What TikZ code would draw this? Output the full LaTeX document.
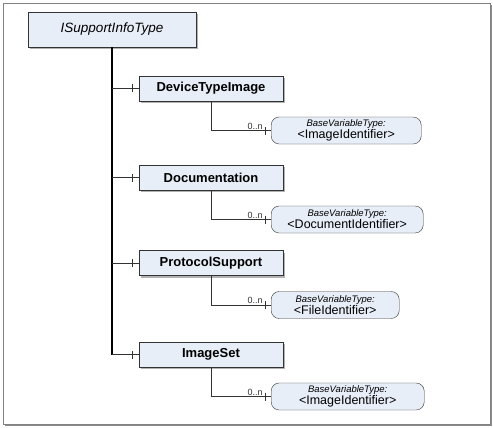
\documentclass[tikz,border=0pt]{standalone}
\usepackage{fontspec}
\setmainfont{Liberation Sans}
\usetikzlibrary{positioning,shadows,decorations.markings}

\definecolor{boxfill}{RGB}{232,238,248}
\definecolor{framegray}{RGB}{130,130,130}

\tikzset{
  typebox/.style={draw=black!80, fill=boxfill, minimum width=144pt, minimum height=25pt,
    inner sep=0pt, font=\fontsize{13}{15}\selectfont\bfseries,
    drop shadow={shadow xshift=2pt, shadow yshift=-2pt, fill=black!30, opacity=1}},
  varbox/.style={draw=black!80, fill=boxfill, rounded corners=8pt, minimum height=27pt,
    inner sep=0pt, align=center, anchor=west},
  trunk/.style={line width=1.1pt, black},
  branch/.style={line width=0.7pt, black!80, postaction={decorate},
    decoration={markings, mark=at position -6pt with {\draw[black!80, line width=0.7pt] (0,-4pt) -- (0,4pt);}}},
  card/.style={font=\fontsize{9}{10}\selectfont, inner sep=1pt},
}

\newcommand{\vartype}[1]{{\fontsize{9.5}{10}\selectfont\itshape BaseVariableType:}\\{\fontsize{12.5}{12.5}\selectfont #1}}

\begin{document}
\begin{tikzpicture}[x=1pt, y=-1pt]
\useasboundingbox (0,0) rectangle (493,428);

% Frame
\fill[black!45] (5,5) rectangle (492,426);
\draw[framegray, fill=white, line width=0.8pt] (3,3) rectangle (490,424);

% Nodes
\node (top) [typebox, minimum width=168pt, minimum height=35pt, font=\fontsize{13.5}{15}\selectfont\itshape]
    at (112,29.5) {ISupportInfoType};
\node (dti) [typebox] at (211,88.5) {DeviceTypeImage};
\node (doc) [typebox] at (211,177.5) {Documentation};
\node (proto) [typebox] at (211,263) {ProtocolSupport};
\node (set) [typebox] at (211,354.5) {ImageSet};

\node (dtivar) [varbox, minimum width=150pt] at (271,130.5) {\vartype{<ImageIdentifier>}};
\node (docvar) [varbox, minimum width=152pt] at (271,219.5) {\vartype{<DocumentIdentifier>}};
\node (protovar) [varbox, minimum width=128pt] at (271,305) {\vartype{<FileIdentifier>}};
\node (setvar) [varbox, minimum width=153pt] at (271,396.5) {\vartype{<ImageIdentifier>}};

% Trunk and branches
\draw[trunk] (top.south) -- (top.south |- set.west);
\draw[branch] (top.south |- dti.west) -- (dti.west);
\draw[branch] (top.south |- doc.west) -- (doc.west);
\draw[branch] (top.south |- proto.west) -- (proto.west);
\draw[branch] (top.south |- set.west) -- (set.west);

% Variables with cardinality
\draw[branch] (dti.south) |- (dtivar.west) node[card, pos=1, above left, xshift=-7pt] {0..n};
\draw[branch] (doc.south) |- (docvar.west) node[card, pos=1, above left, xshift=-7pt] {0..n};
\draw[branch] (proto.south) |- (protovar.west) node[card, pos=1, above left, xshift=-7pt] {0..n};
\draw[branch] (set.south) |- (setvar.west) node[card, pos=1, above left, xshift=-7pt] {0..n};

\end{tikzpicture}
\end{document}
